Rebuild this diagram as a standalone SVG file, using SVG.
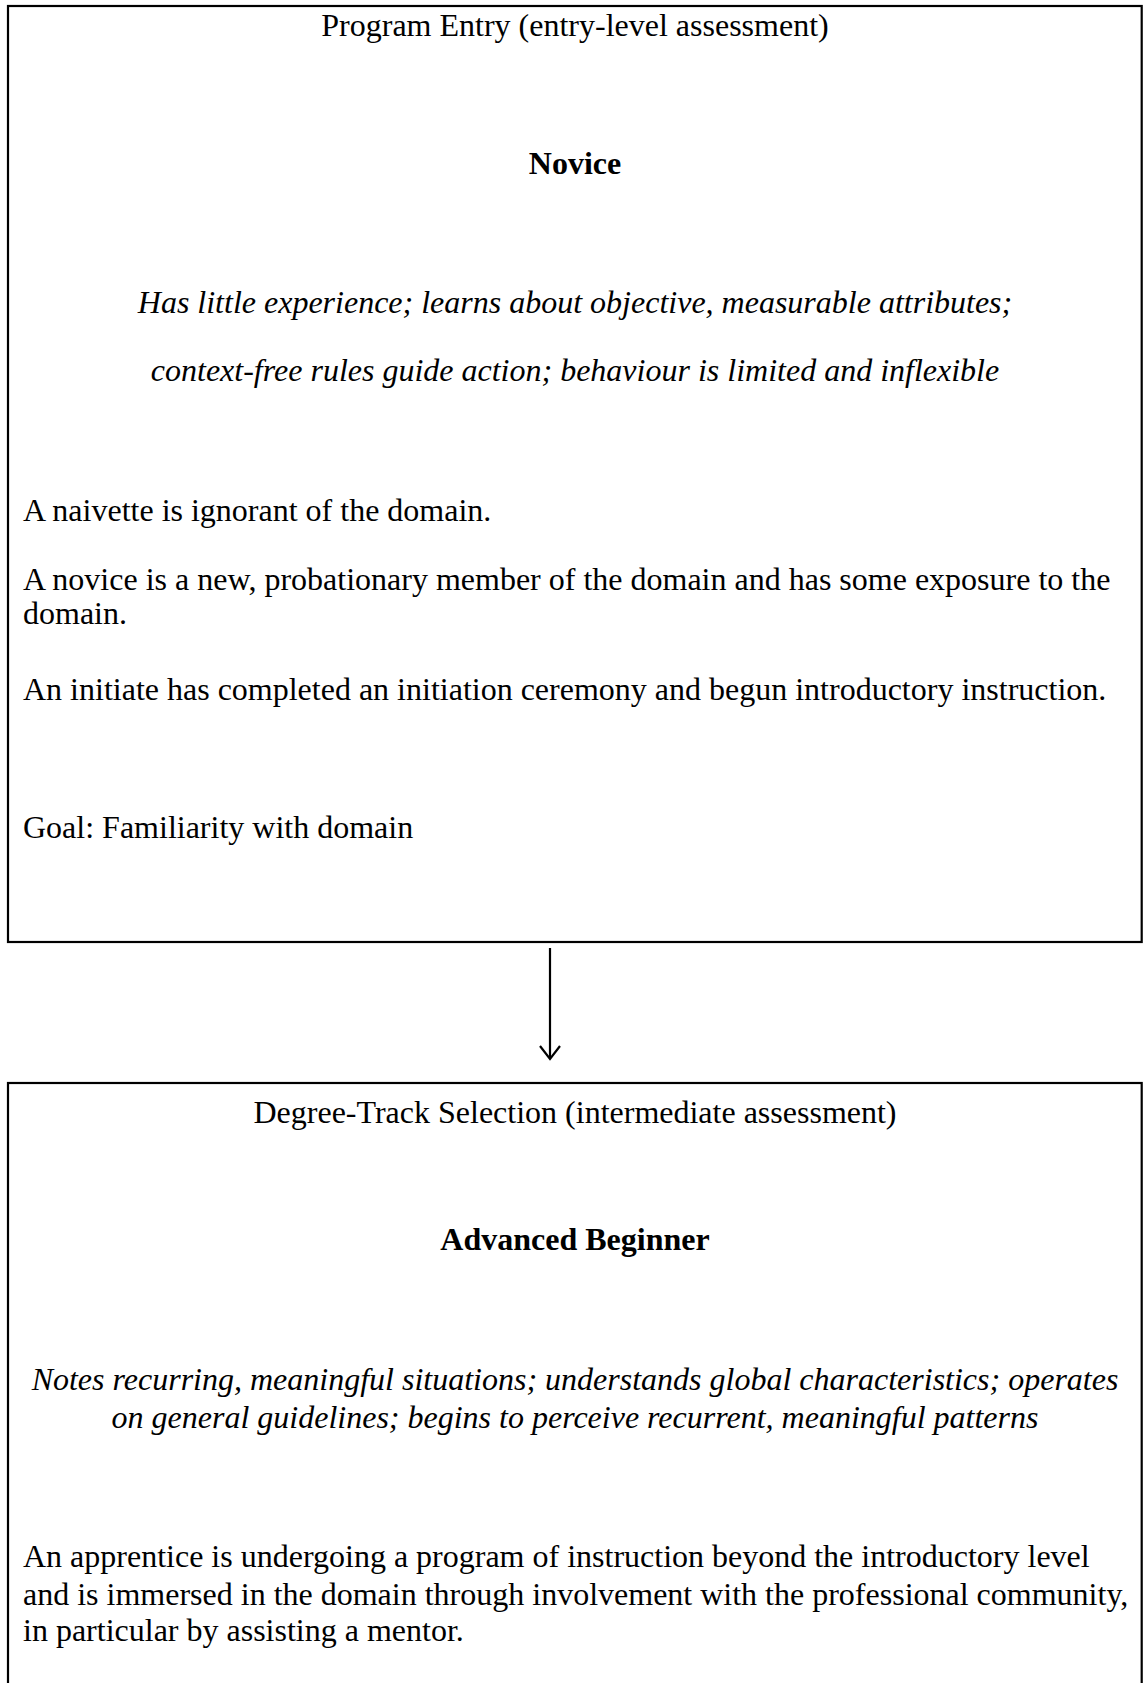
<svg xmlns="http://www.w3.org/2000/svg" width="1146" height="1683" viewBox="0 0 1146 1683">
  <style>
    .box { fill: #ffffff; stroke: #000000; stroke-width: 2.2; }
    .t { font-family: "Liberation Serif", "Times New Roman", serif; font-size: 32px; fill: #000000; }
    .c { text-anchor: middle; }
    .b { font-weight: bold; }
    .i { font-style: italic; }
    .conn { fill: none; stroke: #000000; stroke-width: 2.2; }
  </style>
  <rect x="0" y="0" width="1146" height="1683" fill="#ffffff"/>

  <!-- Stage 1: program entry -->
  <g id="novice">
    <rect class="box" x="8" y="6" width="1133.7" height="936"/>
    <text class="t c" x="575" y="36">Program Entry (entry-level assessment)</text>
    <text class="t c b" x="575" y="174">Novice</text>
    <text class="t c i" x="575" y="313">Has little experience; learns about objective, measurable attributes;</text>
    <text class="t c i" x="575" y="381">context-free rules guide action; behaviour is limited and inflexible</text>
    <text class="t" x="23" y="521">A naivette is ignorant of the domain.</text>
    <text class="t" x="23" y="590">A novice is a new, probationary member of the domain and has some exposure to the</text>
    <text class="t" x="23" y="624">domain.</text>
    <text class="t" x="23" y="700">An initiate has completed an initiation ceremony and begun introductory instruction.</text>
    <text class="t" x="23" y="838">Goal: Familiarity with domain</text>
  </g>

  <!-- Stage 2: degree-track selection (continues below the page) -->
  <g id="advanced-beginner">
    <rect class="box" x="8" y="1083" width="1133.7" height="700"/>
    <text class="t c" x="575" y="1123">Degree-Track Selection (intermediate assessment)</text>
    <text class="t c b" x="575" y="1250">Advanced Beginner</text>
    <text class="t c i" x="575" y="1390">Notes recurring, meaningful situations; understands global characteristics; operates</text>
    <text class="t c i" x="575" y="1428">on general guidelines; begins to perceive recurrent, meaningful patterns</text>
    <text class="t" x="23" y="1567">An apprentice is undergoing a program of instruction beyond the introductory level</text>
    <text class="t" x="23" y="1605">and is immersed in the domain through involvement with the professional community,</text>
    <text class="t" x="23" y="1641">in particular by assisting a mentor.</text>
  </g>

  <!-- Connectors -->
  <g id="connectors">
    <line class="conn" x1="550" y1="948" x2="550" y2="1058"/>
    <polyline class="conn" points="540,1046 550,1059 560,1046"/>
  </g>
</svg>
